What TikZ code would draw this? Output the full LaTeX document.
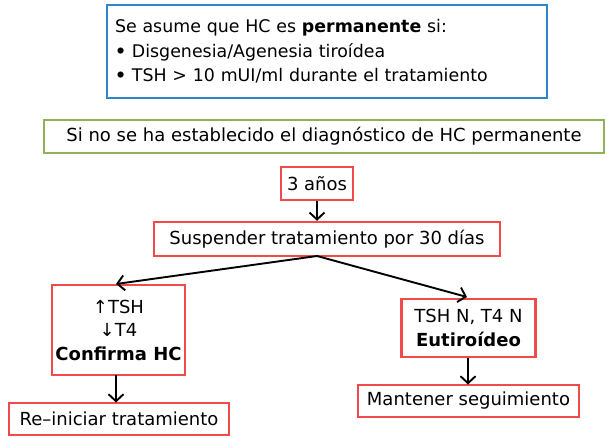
\documentclass[tikz,border=0pt]{standalone}
\usepackage{fontspec}
\setmainfont{DejaVu Sans}
\usetikzlibrary{arrows.meta}
\definecolor{boxblue}{HTML}{2F86CA}
\definecolor{boxgreen}{HTML}{8FB253}
\definecolor{boxred}{HTML}{F24A4A}
\tikzset{
  txt/.style={font=\fontsize{18}{23.5}\selectfont},
  redbox/.style={draw=boxred, line width=2.4pt, inner sep=0pt, txt, align=center},
  arr/.style={line width=1.9pt, -{Straight Barb[length=7pt,width=15pt,line width=1.9pt]}},
}
\begin{document}
\begin{tikzpicture}[x=1pt,y=-1pt]
\useasboundingbox (0,0) rectangle (605,437);
\node[draw=boxblue, line width=2.6pt, minimum width=440pt, minimum height=93pt, inner sep=0pt, font=\fontsize{17.4}{24.5}\selectfont, align=left, text width=424pt] (perm) at (327,51.5)
  {Se asume que HC es \textbf{permanente} si:\\ \textbf{•} Disgenesia/Agenesia tiroídea\\ \textbf{•} TSH > 10 mUI/ml durante el tratamiento};
\node[draw=boxgreen, line width=2.6pt, minimum width=560pt, minimum height=33pt, inner sep=0pt, txt] (cond) at (324,136.5)
  {Si no se ha establecido el diagnóstico de HC permanente};
\node[redbox, minimum width=72pt, minimum height=33pt] (tres) at (317,183.5) {3 años};
\node[redbox, minimum width=346pt, minimum height=34pt] (susp) at (327,239) {Suspender tratamiento por 30 días};
\node[redbox, minimum width=133pt, minimum height=90pt] (conf) at (118.5,330) {↑TSH\\ ↓T4\\ \textbf{Confirma HC}};
\node[redbox, minimum width=134pt, minimum height=58pt, font=\fontsize{18}{24}\selectfont] (eut) at (468.5,328) {TSH N, T4 N\\ \textbf{Eutiroídeo}};
\node[redbox, minimum width=220pt, minimum height=32pt] (rein) at (119,419) {Re–iniciar tratamiento};
\node[redbox, minimum width=221pt, minimum height=32pt] (mant) at (468.5,401) {Mantener seguimiento};
\draw[arr] (tres.south) -- (tres.south |- susp.north);
\draw[arr] (317,256) -- (116,284);
\draw[arr] (317,256) -- (467,297);
\draw[arr] (116,375) -- (116,402.5);
\draw[arr] (468,357.5) -- (468,384.5);
\end{tikzpicture}
\end{document}
